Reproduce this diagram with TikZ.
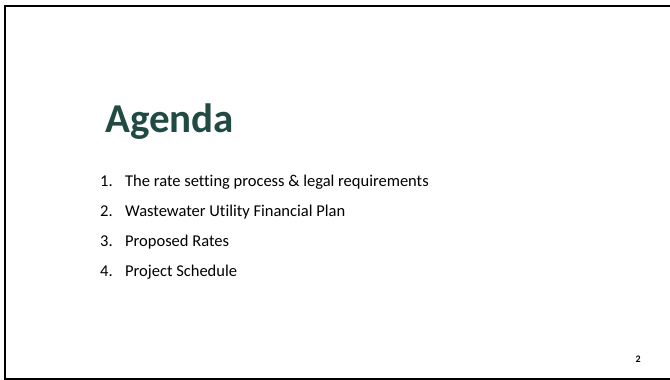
\documentclass[tikz,border=0pt]{standalone}
\usepackage{fontspec}
\setmainfont{Carlito}[Ligatures=NoCommon]
\definecolor{titlegreen}{HTML}{214A44}
\begin{document}
\begin{tikzpicture}[x=1pt,y=-1pt,
  item/.style={anchor=base west,inner sep=0pt,font=\fontsize{16.5}{19}\selectfont},
  num/.style={anchor=base west,inner sep=0pt,font=\fontsize{16.5}{19}\selectfont}]
\useasboundingbox (0,0) rectangle (670,380);
\draw[line width=2pt] (700,6) -- (5,6) -- (5,378.5) -- (700,378.5);
\node[anchor=base west,inner sep=0pt,text=titlegreen,font=\fontsize{41}{45}\bfseries\selectfont] (title) at (105,132) {Agenda};
\node[num] (n1) at (100,186) {1.};
\node[item] (t1) at (125,186) {The rate setting process \& legal requirements};
\node[num] (n2) at (100,216) {2.};
\node[item] (t2) at (125,216) {Wastewater Utility Financial Plan};
\node[num] (n3) at (100,246) {3.};
\node[item] (t3) at (125,246) {Proposed Rates};
\node[num] (n4) at (100,276) {4.};
\node[item] (t4) at (125,276) {Project Schedule};
\node[anchor=base east,inner sep=0pt,font=\fontsize{10}{12}\bfseries\selectfont] (page) at (641,362) {2};
\end{tikzpicture}
\end{document}
